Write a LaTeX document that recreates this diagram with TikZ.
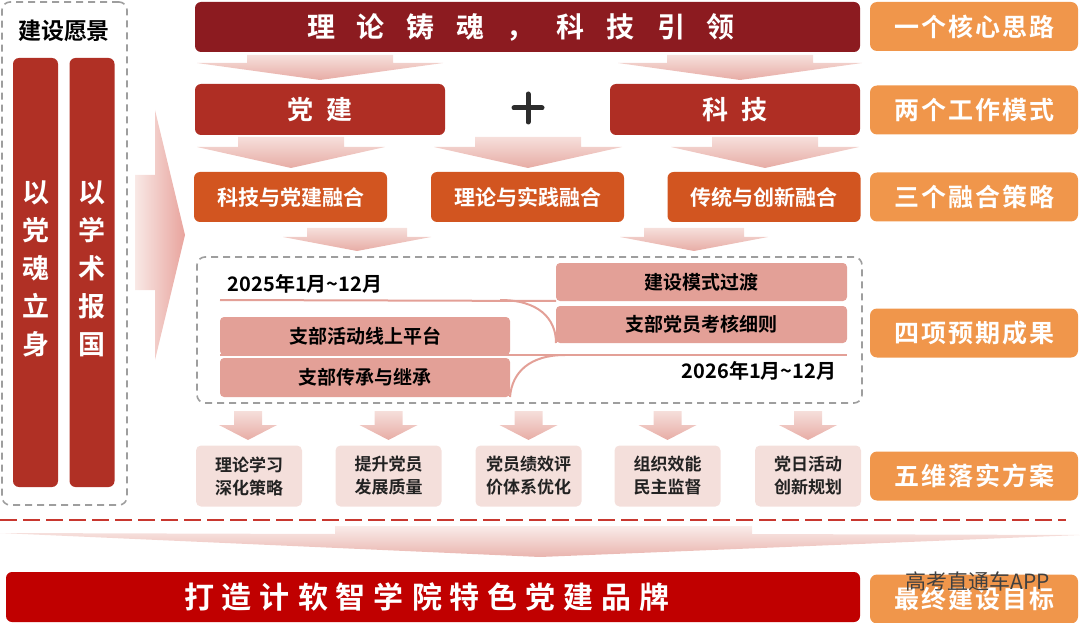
\documentclass[tikz,border=0pt]{standalone}
\usepackage{fontspec}
\newfontfamily\cjk{Noto Sans CJK SC}[BoldFont={Noto Sans CJK SC Bold}]
\definecolor{banner}{HTML}{8C1B20}
\definecolor{rowtwo}{HTML}{AF2E24}
\definecolor{rowthree}{HTML}{D25520}
\definecolor{lab}{HTML}{F0964B}
\definecolor{colred}{HTML}{B03025}
\definecolor{salmon}{HTML}{E3A097}
\definecolor{lightbox}{HTML}{F4DFDB}
\definecolor{botred}{HTML}{C00000}
\definecolor{dashred}{HTML}{C8372F}
\definecolor{arrtop}{HTML}{F6DFDB}
\definecolor{arrbot}{HTML}{E7ACA5}
\definecolor{greyd}{HTML}{9E9E9E}
\definecolor{plusc}{HTML}{2D2D2D}
\definecolor{txtd}{HTML}{222222}
\newcommand\fs[1]{\fontsize{#1}{#1}\selectfont}
\newcommand\gp[1]{\hspace{#1pt}}
\newcommand\dnarrow[6]{\shade[top color=arrtop, bottom color=arrbot] ({#1-#3},#2) -- ({#1+#3},#2) -- ({#1+#3},#4) -- ({#1+#5},#4) -- (#1,#6) -- ({#1-#5},#4) -- ({#1-#3},#4) -- cycle;}
\pgfdeclarelayer{bg}
\pgfsetlayers{bg,main}
\begin{document}
\begin{tikzpicture}[x=1pt,y=-1pt,
  every node/.style={inner sep=0pt, outer sep=0pt},
  dashframe/.style={draw=greyd, line width=1.6pt, dash pattern=on 7pt off 5pt, rounded corners=8pt},
  colbox/.style={fill=colred, rounded corners=6pt, minimum width=45pt, minimum height=429pt},
  coltext/.style={text=white, align=center, font=\cjk\bfseries\fontsize{27}{38}\selectfont},
  bannerbox/.style={fill=banner, rounded corners=6pt, text=white},
  twobox/.style={fill=rowtwo, rounded corners=6pt, text=white, minimum width=250pt, minimum height=51pt, font=\cjk\bfseries\fs{26}},
  threebox/.style={fill=rowthree, rounded corners=6pt, text=white, minimum width=193pt, minimum height=50pt, font=\cjk\bfseries\fs{21}},
  labbox/.style={fill=lab, rounded corners=7pt, text=white, minimum width=208pt, minimum height=49pt, font=\cjk\bfseries\fs{25}},
  pinkbox/.style={fill=salmon, rounded corners=4pt, text=black, minimum width=291pt, font=\cjk\bfseries\fs{19}},
  datetext/.style={text=black, font=\cjk\bfseries\fs{20}},
  smallbox/.style={fill=lightbox, rounded corners=5pt, text=txtd, minimum width=106pt, minimum height=61pt, align=center, font=\cjk\bfseries\fontsize{17}{23}\selectfont},
  timeline/.style={draw=salmon, line width=2pt}
]
\useasboundingbox (0,0) rectangle (1080,623);

% ---------- left panel ----------
\node[dashframe, minimum width=125pt, minimum height=503pt] (lframe) at (64.5,253.5) {};
\node[text=black, font=\cjk\bfseries\fs{23}] (vision) at (64,31) {建设愿景};
\node[colbox] (c1) at (35.5,272.5) {};
\node[colbox] (c2) at (92,272.5) {};
\node[coltext] (c1t) at (35.5,269) {以\\党\\魂\\立\\身};
\node[coltext] (c2t) at (92,269) {以\\学\\术\\报\\国};
\shade[left color=arrtop!70!white, right color=arrbot!95!red] (135,175) -- (155,175) -- (155,110) -- (185,235) -- (155,360) -- (155,290) -- (135,290) -- cycle;

% ---------- top banner ----------
\node[bannerbox, minimum width=665pt, minimum height=50pt] (top) at (527.5,27) {};
\node[text=white, font=\cjk\bfseries\fs{28}] (topt) at (521,27) {理\gp{22}论\gp{22}铸\gp{22}魂\gp{22}，\gp{22}科\gp{22}技\gp{22}引\gp{22}领};

% arrows banner -> row 2
\dnarrow{320}{55}{73}{63}{123}{80}
\dnarrow{740}{55}{73}{63}{122}{80}

% ---------- row 2 ----------
\node[twobox] (dj) at (320,109.5) {党\gp{14}建};
\node[twobox] (kj) at (735,109.5) {科\gp{14}技};
\draw[plusc, line width=5pt, line cap=round] (514,108) -- (542,108) (528,94) -- (528,122);

% arrows row 2 -> row 3
\dnarrow{291}{137}{53}{147}{94}{168}
\dnarrow{528}{137}{53}{147}{94}{168}
\dnarrow{765}{137}{53}{147}{94}{168}

% ---------- row 3 ----------
\node[threebox] (f1) at (290.5,197) {科技与党建融合};
\node[threebox] (f2) at (527.5,197) {理论与实践融合};
\node[threebox] (f3) at (764,197) {传统与创新融合};

% arrows row 3 -> results
\dnarrow{357}{228}{50}{237}{74}{251}
\dnarrow{694}{228}{50}{237}{74}{251}

% ---------- results box ----------
\node[dashframe, minimum width=665pt, minimum height=146pt] (res) at (529.5,330) {};
\node[pinkbox, minimum height=38pt] (jm) at (701.5,282) {建设模式过渡};
\node[pinkbox, minimum height=37pt] (kh) at (701.5,324.5) {支部党员考核细则};
\node[pinkbox, minimum width=290pt, minimum height=38pt] (pt) at (365,336) {支部活动线上平台};
\node[pinkbox, minimum width=290pt, minimum height=39pt] (cc) at (365,377.5) {支部传承与继承};
\node[datetext] (d1) at (305,284) {2025年1月\textasciitilde12月};
\node[datetext] (d2) at (759,371) {2026年1月\textasciitilde12月};
\coordinate (la) at (220,300);
\coordinate (lab1) at (500,300);
\coordinate (lb) at (220,355);
\coordinate (lbe) at (847,355);
\begin{pgfonlayer}{bg}
\draw[timeline] (la) -- (jm.south west);
\draw[timeline] (lab1) .. controls (538,300) and (556,318) .. (kh.south west);
\draw[timeline] (lb) -- (lbe);
\draw[timeline] (cc.south east) .. controls (512,372) and (530,355) .. (565,355);
\end{pgfonlayer}

% arrows results -> plans
\dnarrow{248}{411}{14}{425}{29}{440}
\dnarrow{388.5}{411}{14}{425}{29}{440}
\dnarrow{528.5}{411}{14}{425}{29}{440}
\dnarrow{667.5}{411}{14}{425}{29}{440}
\dnarrow{808}{411}{14}{425}{29}{440}

% ---------- plans ----------
\node[smallbox] (p1) at (249,476) {理论学习\\深化策略};
\node[smallbox] (p2) at (388.5,476) {提升党员\\发展质量};
\node[smallbox] (p3) at (528.5,476) {党员绩效评\\价体系优化};
\node[smallbox] (p4) at (667.5,476) {组织效能\\民主监督};
\node[smallbox] (p5) at (808,476) {党日活动\\创新规划};

% ---------- separator ----------
\coordinate (rdl) at (0,520);
\coordinate (rdr) at (1066,520);
\draw[dashred, line width=2.5pt, dash pattern=on 17pt off 6pt] (rdl) -- (rdr);
\shade[top color=arrtop!60!white, bottom color=arrbot!90!white] (335,526) -- (752,526) -- (752,534) -- (1080,535) -- (540,557) -- (0,533) -- (335,534) -- cycle;

% ---------- bottom banner ----------
\node[fill=botred, rounded corners=6pt, minimum width=854pt, minimum height=50pt] (goal) at (433,597) {};
\node[text=white, font=\cjk\bfseries\fs{30}] (goalt) at (427,597) {打\gp{8}造\gp{8}计\gp{8}软\gp{8}智\gp{8}学\gp{8}院\gp{8}特\gp{8}色\gp{8}党\gp{8}建\gp{8}品\gp{8}牌};

% ---------- right labels ----------
\node[labbox] (l1) at (974,26.5) {一\gp{2}个\gp{2}核\gp{2}心\gp{2}思\gp{2}路};
\node[labbox] (l2) at (974,110) {两\gp{2}个\gp{2}工\gp{2}作\gp{2}模\gp{2}式};
\node[labbox] (l3) at (974,197) {三\gp{2}个\gp{2}融\gp{2}合\gp{2}策\gp{2}略};
\node[labbox] (l4) at (974,333) {四\gp{2}项\gp{2}预\gp{2}期\gp{2}成\gp{2}果};
\node[labbox] (l5) at (974,476) {五\gp{2}维\gp{2}落\gp{2}实\gp{2}方\gp{2}案};
\node[labbox] (l6) at (974,599) {最\gp{2}终\gp{2}建\gp{2}设\gp{2}目\gp{2}标};
\node[text=black!75, font=\cjk\fs{21}] (wm) at (978,581) {高考直通车APP};
\end{tikzpicture}
\end{document}
